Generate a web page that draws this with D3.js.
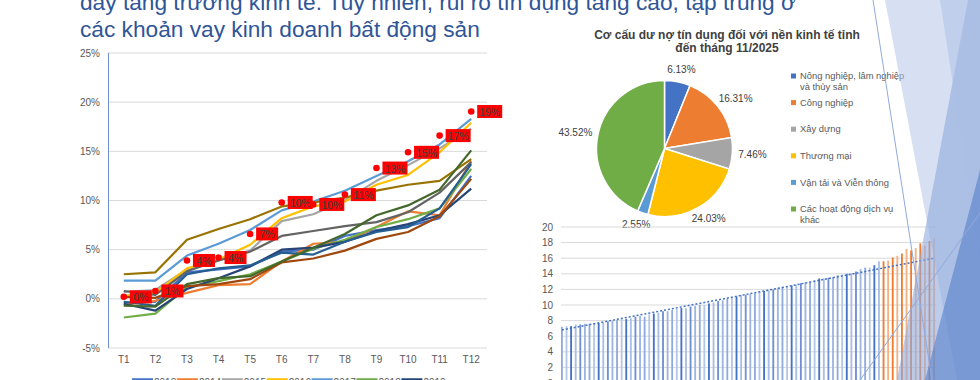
<!DOCTYPE html>
<html>
<head>
<meta charset="utf-8">
<script src="https://cdn.jsdelivr.net/npm/d3@7"></script>
<style>
body { margin: 0; background: #fff; overflow: hidden; }
svg { display: block; font-family: "Liberation Sans", Arial, sans-serif; }
</style>
</head>
<body>
<svg id="slide" width="980" height="380"></svg>
<script>
// slide title (first line is cut by the frame)
const titleLines = [
    "đẩy tăng trưởng kinh tế. Tuy nhiên, rủi ro tín dụng tăng cao, tập trung ở",
    "các khoản vay kinh doanh bất động sản"
];

// line chart: credit growth by month, % vs start of year
const months = ["T1", "T2", "T3", "T4", "T5", "T6", "T7", "T8", "T9", "T10", "T11", "T12"];
const yearNames = ["2013", "2014", "2015", "2016", "2017", "2018", "2019", "2020", "2021", "2022", "2023", "2024"];
const growth2013 = [-0.4, -0.3, 2.7, 3.0, 3.3, 4.8, 5.0, 6.4, 7.0, 7.4, 8.2, 12.5];
const growth2014 = [-0.6, -0.2, 0.6, 1.4, 1.5, 3.8, 5.6, 5.8, 7.3, 8.9, 8.5, 14.0];
const growth2015 = [0.7, 0.9, 3.0, 3.9, 4.9, 7.9, 8.6, 10.0, 12.0, 13.6, 15.3, 17.3];
const growth2016 = [0.3, 0.6, 3.1, 4.0, 5.5, 8.2, 9.4, 9.9, 11.6, 12.6, 14.9, 17.9];
const growth2017 = [1.85, 1.85, 4.4, 5.6, 7.0, 9.0, 9.9, 11.0, 12.5, 14.0, 15.7, 18.3];
const growth2018 = [-1.9, -1.5, 1.2, 1.8, 2.5, 3.8, 5.1, 6.0, 7.3, 8.1, 9.2, 13.2];
const growth2019 = [-0.5, -1.2, 1.0, 2.1, 3.3, 5.0, 5.2, 5.8, 6.9, 7.6, 8.5, 11.2];
const growth2020 = [0.2, 0.1, 1.3, 1.5, 2.0, 3.7, 4.1, 4.9, 6.1, 6.8, 8.4, 12.2];
const growth2021 = [0.8, 0.4, 2.8, 3.9, 4.8, 6.4, 6.9, 7.4, 7.8, 8.8, 10.8, 13.9];
const growth2022 = [2.5, 2.7, 6.0, 7.1, 8.1, 9.4, 9.8, 10.3, 11.0, 11.6, 12.0, 14.2];
const growth2023 = [-0.3, -0.7, 2.5, 3.1, 3.4, 4.7, 4.5, 5.8, 6.8, 7.3, 9.2, 13.7];
const growth2024 = [-0.7, -0.8, 1.5, 2.1, 2.3, 3.8, 5.2, 6.6, 8.5, 9.5, 11.1, 15.1];
const growth2025 = [0.2, 0.8, 3.9, 4.2, 6.6, 9.8, 9.6, 10.6, 13.3, 14.9, 16.6, 19.05];
const growthTicks = [-5, 0, 5, 10, 15, 20, 25];

// pie chart: credit structure
const pieTitle = ["Cơ cấu dư nợ tín dụng đối với nền kinh tế tỉnh", "đến tháng 11/2025"];
const sectors = ["Nông nghiệp, lâm nghiệp và thủy sản", "Công nghiệp", "Xây dựng", "Thương mại", "Vận tải và Viễn thông", "Các hoạt động dịch vụ khác"];
const sectorShares = [6.13, 16.31, 7.46, 24.03, 2.55, 43.52];

// bar chart at the bottom right
const barsBlue = [
    7.2, 7.3, 7.3, 7.5, 7.5, 7.6, 7.6, 7.7, 7.7, 7.8,
    7.9, 8.0, 8.1, 8.2, 8.2, 8.3, 8.5, 8.6, 8.5, 8.8,
    8.9, 9.0, 9.2, 9.2, 9.4, 9.5, 9.6, 9.6, 9.8, 9.9,
    10.0, 10.0, 10.2, 10.3, 10.5, 10.6, 10.8, 10.9, 11.1, 11.3,
    11.3, 11.4, 11.5, 11.7, 11.8, 11.9, 12.0, 12.2, 12.3, 12.3,
    12.5, 12.6, 12.8, 12.9, 13.0, 13.2, 13.4, 13.4, 13.5, 13.6,
    13.8, 13.9, 14.0, 14.1, 14.3, 14.6, 14.8, 14.8, 15.1, 15.6
];
const barsOrange = [15.6, 15.7, 16.1, 16.3, 16.6, 17.2, 17.0, 17.3, 17.9, 17.6, 18.2, 18.6];
const trendEnds = [6.8, 16.0];
const barTicks = [0, 2, 4, 6, 8, 10, 12, 14, 16, 18, 20];

const svg = d3.select("#slide");

// ---- title
svg.append("g").selectAll("text")
    .data(titleLines)
    .join("text")
    .attr("x", 80)
    .attr("y", (d, i) => 9.5 + i * 27.5)
    .attr("fill", "#2F5597")
    .style("font-size", "22.7px")
    .text(d => d);

// ---- line chart
const seriesColors = ["#4472C4", "#ED7D31", "#A5A5A5", "#FFC000", "#5B9BD5", "#70AD47",
    "#264478", "#9E480E", "#636363", "#997300", "#255E91", "#43682B"];
const series = [growth2013, growth2014, growth2015, growth2016, growth2017, growth2018,
    growth2019, growth2020, growth2021, growth2022, growth2023, growth2024]
    .map((v, i) => ({ name: yearNames[i], values: v, color: seriesColors[i] }));

const x = d3.scaleBand().domain(months).range([108, 487]);
const y = d3.scaleLinear().domain([-5, 25]).range([348, 53]);
const lc = svg.append("g");

lc.append("g").selectAll("line")
    .data(growthTicks)
    .join("line")
    .attr("x1", 108).attr("x2", 487)
    .attr("y1", d => y(d)).attr("y2", d => y(d))
    .attr("stroke", "#D9D9D9").attr("stroke-width", 1);

lc.append("line")
    .attr("x1", 108.5).attr("x2", 108.5)
    .attr("y1", y(25)).attr("y2", y(-5))
    .attr("stroke", "#6F8FCF").attr("stroke-width", 1);

lc.append("g").selectAll("text")
    .data(growthTicks)
    .join("text")
    .attr("x", 100).attr("y", d => y(d))
    .attr("text-anchor", "end").attr("dominant-baseline", "central")
    .attr("fill", "#595959").style("font-size", "10px")
    .text(d => d + "%");

lc.append("g").selectAll("text")
    .data(months)
    .join("text")
    .attr("x", d => x(d) + x.bandwidth() / 2).attr("y", 359)
    .attr("text-anchor", "middle").attr("dominant-baseline", "central")
    .attr("fill", "#595959").style("font-size", "10px")
    .text(d => d);

const line = d3.line()
    .x((d, i) => x(months[i]) + x.bandwidth() / 2)
    .y(d => y(d));

lc.append("g").selectAll("path")
    .data(series)
    .join("path")
    .attr("d", d => line(d.values))
    .attr("fill", "none")
    .attr("stroke", d => d.color)
    .attr("stroke-width", 2.2)
    .attr("stroke-linejoin", "round");

// 2025 markers with red labels
const pts = lc.append("g").selectAll("g")
    .data(growth2025)
    .join("g")
    .attr("transform", (d, i) => `translate(${x(months[i]) + x.bandwidth() / 2},${y(d)})`);
pts.append("circle").attr("r", 3.3).attr("fill", "#FF0000");
pts.append("rect")
    .attr("x", 6).attr("y", -6.5)
    .attr("width", d => Math.round(d) >= 10 ? 25 : 22).attr("height", 13)
    .attr("fill", "#FF0000");
pts.append("text")
    .attr("x", d => Math.round(d) >= 10 ? 18.5 : 17).attr("y", 0.5)
    .attr("text-anchor", "middle").attr("dominant-baseline", "central")
    .attr("fill", "#404040").style("font-size", "10.5px")
    .text(d => Math.round(d) + "%");

// legend, only the first row shows in the frame
const lg = lc.append("g").selectAll("g")
    .data(series.slice(0, 7))
    .join("g")
    .attr("transform", (d, i) => `translate(${132 + i * 44.9},0)`);
lg.append("line")
    .attr("x1", 0).attr("x2", 21).attr("y1", 379.5).attr("y2", 379.5)
    .attr("stroke", d => d.color).attr("stroke-width", 2.5);
lg.append("text")
    .attr("x", 22).attr("y", 382).attr("dominant-baseline", "central")
    .attr("fill", "#595959").style("font-size", "10px")
    .text(d => d.name);

// ---- pie chart
const pieColors = ["#4472C4", "#ED7D31", "#A5A5A5", "#FFC000", "#5B9BD5", "#70AD47"];
const pieCx = 664.5, pieCy = 148.5, pieR = 68;
const pc = svg.append("g");

pc.append("g").selectAll("text")
    .data(pieTitle)
    .join("text")
    .attr("x", 727).attr("y", (d, i) => 35 + i * 12.5)
    .attr("text-anchor", "middle").attr("dominant-baseline", "central")
    .attr("fill", "#404040").style("font-size", "12px").style("font-weight", "bold")
    .text(d => d);

const arcs = d3.pie().sort(null)(sectorShares);
const arc = d3.arc().innerRadius(0).outerRadius(pieR);
pc.append("g")
    .attr("transform", `translate(${pieCx},${pieCy})`)
    .selectAll("path")
    .data(arcs)
    .join("path")
    .attr("d", arc)
    .attr("fill", (d, i) => pieColors[i])
    .attr("stroke", "#fff").attr("stroke-width", 1.5);

pc.append("g").selectAll("text")
    .data(arcs)
    .join("text")
    .attr("text-anchor", "middle").attr("dominant-baseline", "central")
    .attr("fill", "#404040").style("font-size", "10px")
    .text(d => d.data.toFixed(2) + "%")
    .each(function (d) {
        const a = (d.startAngle + d.endAngle) / 2;
        const w = this.getComputedTextLength();
        const s = Math.sin(a), c = Math.cos(a);
        d3.select(this)
            .attr("x", pieCx + (pieR + 6) * s + s * w / 2)
            .attr("y", pieCy - (pieR + 6) * c - c * 6);
    });

const pl = pc.append("g").selectAll("g")
    .data(sectors)
    .join("g")
    .attr("transform", (d, i) => `translate(791,${76 + i * 26.6})`);
pl.append("rect")
    .attr("x", 0).attr("y", -2.5).attr("width", 5).attr("height", 5)
    .attr("fill", (d, i) => pieColors[i]);
pl.append("text")
    .attr("x", 9).attr("y", 0)
    .attr("fill", "#595959").style("font-size", "9.4px")
    .each(function (d) {
        // wrap legend text at ~108px
        const t = d3.select(this);
        const words = d.split(" ");
        let span = t.append("tspan").attr("x", 9).attr("dy", "0.35em");
        let cur = [];
        words.forEach(w => {
            cur.push(w);
            span.text(cur.join(" "));
            if (span.node().getComputedTextLength() > 108 && cur.length > 1) {
                cur.pop();
                span.text(cur.join(" "));
                cur = [w];
                span = t.append("tspan").attr("x", 9).attr("dy", "1.15em").text(w);
            }
        });
    });

// ---- bar chart
const barValues = barsBlue.concat(barsOrange);
const bx = d3.scaleBand().domain(d3.range(barValues.length)).range([561, 935]).paddingInner(0.6);
const by = d3.scaleLinear().domain([0, 20]).range([383, 227]);
const blueShades = ["#8FAADC", "#B4C7E7", "#4472C4", "#A9BEE4", "#6F8FCF", "#9DB5E0"];
const orangeShades = ["#ED7D31", "#F4B183"];
const bc = svg.append("g");

bc.append("g").selectAll("line")
    .data(barTicks)
    .join("line")
    .attr("x1", 561).attr("x2", 936)
    .attr("y1", d => by(d)).attr("y2", d => by(d))
    .attr("stroke", "#D9D9D9").attr("stroke-width", 1);

bc.append("g").selectAll("text")
    .data(barTicks)
    .join("text")
    .attr("x", 553).attr("y", d => by(d))
    .attr("text-anchor", "end").attr("dominant-baseline", "central")
    .attr("fill", "#595959").style("font-size", "10px")
    .text(d => d);

bc.append("g").selectAll("rect")
    .data(barValues)
    .join("rect")
    .attr("x", (d, i) => bx(i))
    .attr("y", d => by(d))
    .attr("width", bx.bandwidth())
    .attr("height", d => by(0) - by(d))
    .attr("fill", (d, i) => i < barsBlue.length
        ? blueShades[i % blueShades.length]
        : orangeShades[i % 2]);

bc.append("line")
    .attr("x1", bx(0) + bx.bandwidth() / 2)
    .attr("x2", bx(barValues.length - 1) + bx.bandwidth() / 2)
    .attr("y1", by(trendEnds[0])).attr("y2", by(trendEnds[1]))
    .attr("stroke", "#4472C4").attr("stroke-width", 1.5)
    .attr("stroke-dasharray", "2,2");

// ---- slide decoration on the right edge
const deco = svg.append("g");
deco.append("polygon").attr("points", "885,0 980,0 980,380 957,380")
    .attr("fill", "#B4C7E7").attr("opacity", 0.55);
deco.append("polygon").attr("points", "897,380 968,0 980,0 980,380")
    .attr("fill", "#8FAADC").attr("opacity", 0.6);
deco.append("polygon").attr("points", "940,0 980,0 980,260")
    .attr("fill", "#A9BEE4").attr("opacity", 0.5);
deco.append("polygon").attr("points", "925,380 980,170 980,380")
    .attr("fill", "#4472C4").attr("opacity", 0.5);
deco.append("line").attr("x1", 873).attr("y1", 0).attr("x2", 932).attr("y2", 380)
    .attr("stroke", "#8FAADC").attr("stroke-width", 1);
deco.append("line").attr("x1", 860).attr("y1", 380).attr("x2", 980).attr("y2", 213)
    .attr("stroke", "#8FAADC").attr("stroke-width", 1);
</script>
</body>
</html>
